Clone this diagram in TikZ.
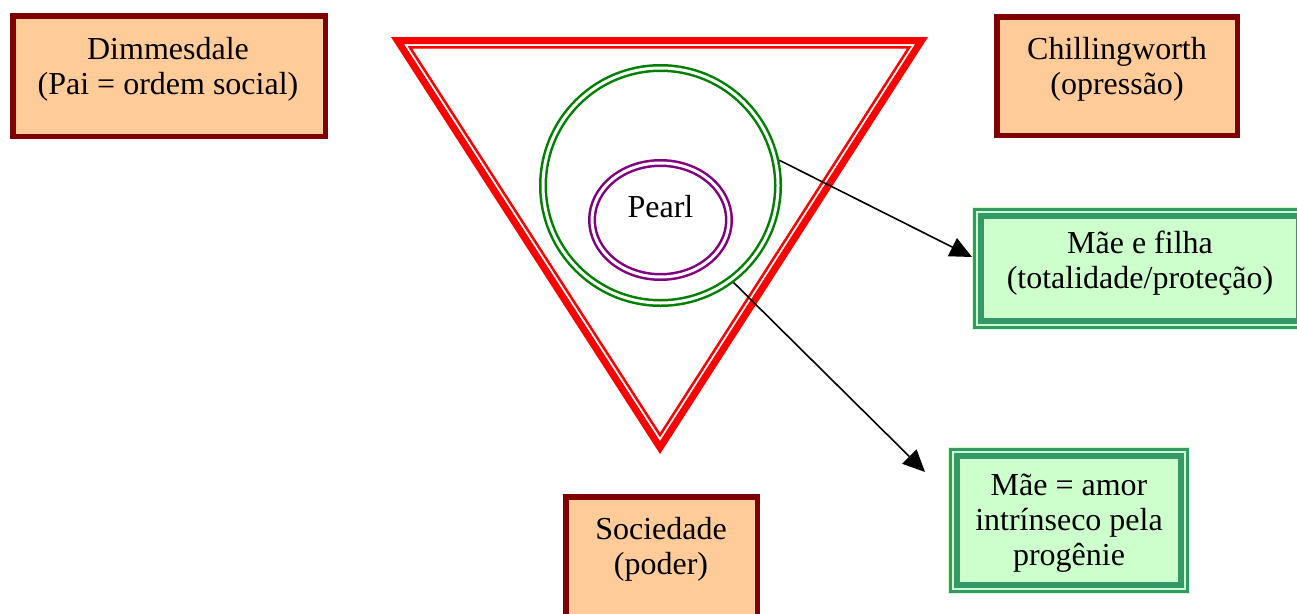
\documentclass[tikz,border=0pt]{standalone}
\usepackage{fontspec}
\setmainfont{Liberation Serif}
\usetikzlibrary{arrows.meta,shapes.geometric}
\definecolor{peach}{HTML}{FFCC99}
\definecolor{maroon}{HTML}{800000}
\definecolor{mint}{HTML}{CCFFCC}
\definecolor{seagreen}{HTML}{339966}
\definecolor{leafgreen}{HTML}{008000}
\definecolor{plum}{HTML}{800080}
\definecolor{signalred}{HTML}{FF0000}
\begin{document}
\begin{tikzpicture}[x=1pt,y=-1pt,
  every node/.style={font=\fontsize{32pt}{35pt}\selectfont, inner sep=0pt},
  txt/.style={align=center},
  peachbox/.style={rectangle, draw=maroon, fill=peach, line width=5.5pt, outer sep=2.75pt},
  greenbox/.style={rectangle, draw=seagreen, fill=mint, line width=6pt, outer sep=9pt,
    preaction={draw=mint, line width=18pt},
    preaction={draw=seagreen, line width=16pt},
    preaction={draw=mint, line width=10pt}},
  ring/.style={line width=2.5pt, double=white, double distance=3pt, outer sep=4pt},
  link/.style={draw=black, line width=1.6pt, -{Triangle[length=22pt,width=20pt]}},
  redband/.style={draw=signalred, line join=miter}]
\useasboundingbox (0,0) rectangle (1297,613);
\clip (0,0) rectangle (1297,613);

% inverted triangle: thick outer band and thin inner line, scaled about the incentre
\begin{scope}[shift={(660,183.5)}]
  \draw[redband, line width=7pt, scale=0.97611]
    (-269,-146.5) -- (268,-146.5) -- (0,270.5) -- cycle;
  \draw[redband, line width=2.5pt, scale=0.93003]
    (-269,-146.5) -- (268,-146.5) -- (0,270.5) -- cycle;
\end{scope}

% circle of the mother and the ellipse of the child
\node[circle, ring, draw=leafgreen, minimum size=235pt] (mother) at (660.5,185.5) {};
\node[ellipse, ring, draw=plum, minimum width=137pt, minimum height=114pt] (pearl) at (660.5,220) {};
\node[anchor=base] (pearltxt) at (660.5,217.5) {Pearl};

% character boxes
\node[peachbox, minimum width=312.5pt, minimum height=120.5pt] (dim) at (169,76) {};
\node[txt] (dimtxt) at (168,69.3) {Dimmesdale\\(Pai = ordem social)};

\node[peachbox, minimum width=240.5pt, minimum height=118.5pt] (chi) at (1117,76) {};
\node[txt] (chitxt) at (1117,69.3) {Chillingworth\\(opressão)};

\node[peachbox, minimum width=191.5pt, minimum height=120.5pt] (soc) at (661.5,557) {};
\node[txt] (soctxt) at (661,549.3) {Sociedade\\(poder)};

% interpretation boxes
\node[greenbox, minimum width=318pt, minimum height=105pt] (filha) at (1140,268.5) {};
\node[txt] (filtxt) at (1140,263) {Mãe e filha\\(totalidade/proteção)};

\node[greenbox, minimum width=224pt, minimum height=129pt] (amor) at (1069,520.5) {};
\node[txt] (amortxt) at (1069,522.7) {Mãe = amor\\intrínseco pela\\progênie};

% connectors
\coordinate (tipA) at ([yshift=11.5pt]filha.west);
\coordinate (tipB) at ([xshift=-23pt,yshift=-25pt]amor.north west);
\draw[link] (mother.12) -- (tipA);
\draw[link] (mother.-53) -- (tipB);
\end{tikzpicture}
\end{document}
